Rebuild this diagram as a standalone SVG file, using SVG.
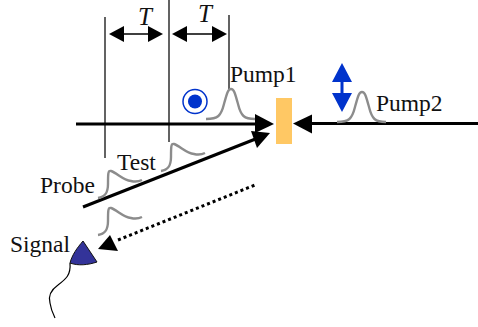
<svg xmlns="http://www.w3.org/2000/svg" width="478" height="327" viewBox="0 0 478 327">
<style>
text{font-family:"Liberation Serif","Times New Roman",serif;font-size:23.500px;fill:#111}
.t{font-style:italic;font-size:25px}
.v{stroke:#222;stroke-width:1.400;fill:none}
.l{stroke:#000;stroke-width:3;fill:none}
.d{stroke:#000;stroke-width:1.600;fill:none}
.p{stroke:#8c8c8c;stroke-width:2.400;fill:none}
</style>
<defs>
<path id="pulse" class="p" d="M0 30C12 30 15 27 18 15C21 4 22 0 25 0C28 0 29 4 32 15C35 27 38 30 49 30"/>
<path id="skew" class="p" d="M0 28C7 27 10 23 10 14C10 4 10 0 13 1C19 3 25 10 33 11C37 12 40 12 44 10"/>
</defs>
<g id="connectors">
<path class="v" d="M105 17V158M169 0V142M229 15V89"/>
<path class="d" d="M120 34H152M183 34H216"/>
<path d="M109 34L124 26V42ZM163 34L148 26V42ZM172 34L187 26V42ZM227 34L212 26V42Z"/>
<path class="l" d="M76 124H258"/>
<path d="M274 124L255 114V133Z"/>
<path class="l" d="M478 123.500H310"/>
<path d="M293 123.500L312 114.500V133.500Z"/>
<path class="l" d="M83 207L258 138"/>
<path d="M270 133L251 131L257 148Z"/>
<path d="M98 249L110 235L118 251Z"/>
<path d="M118 240L255 185" stroke="#000" stroke-width="3" stroke-dasharray="3 3" fill="none"/>
</g>
<g id="t1"><text class="t" x="138" y="25">T</text></g>
<g id="t2"><text class="t" x="198" y="22">T</text></g>
<g id="pump1"><use href="#pulse" x="206" y="89"/><text x="230" y="82">Pump1</text></g>
<g id="pump2"><use href="#pulse" x="337" y="92"/><text x="376" y="111">Pump2</text>
<path fill="#0033cc" d="M342 63L352 82H343.500V93H352L342 112L332 93H340.500V82H332Z"/></g>
<g id="polarization"><circle cx="195" cy="101.500" r="12" fill="#fff" stroke="#0033cc" stroke-width="1.500"/><circle cx="195" cy="101.500" r="7" fill="#0033cc"/></g>
<g id="sample"><rect x="276" y="98" width="16" height="46" fill="#ffc864"/></g>
<g id="test"><use href="#skew" x="161" y="143"/><text x="117" y="170">Test</text></g>
<g id="probe"><use href="#skew" x="98" y="170"/><text x="40" y="193">Probe</text></g>
<g id="signal"><use href="#skew" x="98" y="207"/><text x="10" y="252">Signal</text></g>
<g id="detector">
<path d="M83 241L97 262C88 265 78 266 70 263C72 255 77 248 83 241Z" fill="#333399" stroke="#111" stroke-width="1"/>
<path d="M70 263C71 275 66 279 58 285C51 290 48 296 50 303C51 310 53 314 55 318" fill="none" stroke="#000" stroke-width="1.200"/>
</g>
</svg>
